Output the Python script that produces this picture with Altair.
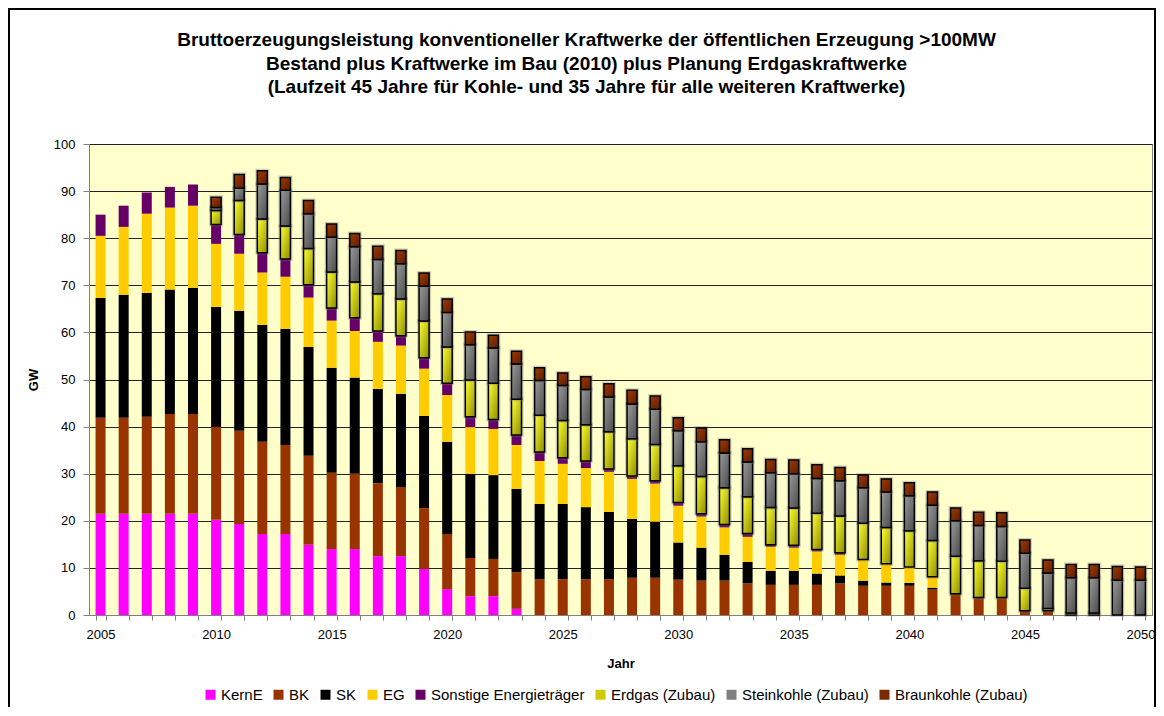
import altair as alt
import pandas as pd

years = list(range(2005, 2051))

series_names = ["KernE", "BK", "SK", "EG", "Sonstige Energieträger",
                "Erdgas (Zubau)", "Steinkohle (Zubau)", "Braunkohle (Zubau)"]

kerne = [21.5, 21.5, 21.5, 21.5, 21.5, 20.2, 19.3, 17.2, 17.2, 14.9,
         14.0, 14.0, 12.5, 12.5, 9.8, 5.5, 4.0, 4.0, 1.3, 0,
         0, 0, 0, 0, 0, 0, 0, 0, 0, 0,
         0, 0, 0, 0, 0, 0, 0, 0, 0, 0,
         0, 0, 0, 0, 0, 0]
bk = [20.4, 20.4, 20.6, 21.2, 21.2, 19.7, 19.8, 19.6, 18.9, 18.9,
      16.2, 16.0, 15.5, 14.7, 12.9, 11.7, 8.1, 7.9, 7.8, 7.6,
      7.6, 7.6, 7.6, 7.9, 7.9, 7.5, 7.3, 7.3, 6.7, 6.4,
      6.4, 6.4, 6.7, 6.2, 6.2, 6.2, 5.4, 4.5, 3.7, 3.7,
      0.9, 0.9, 0, 0, 0, 0]
sk = [25.4, 26.1, 26.3, 26.4, 26.8, 25.5, 25.5, 24.8, 24.7, 23.1,
      22.3, 20.4, 20.0, 19.8, 19.6, 19.6, 17.9, 17.8, 17.7, 16.0,
      16.0, 15.3, 14.3, 12.5, 11.9, 7.9, 7.0, 5.5, 4.6, 3.0,
      3.0, 2.4, 1.7, 1.1, 0.7, 0.6, 0.4, 0, 0, 0,
      0, 0, 0, 0, 0, 0]
eg = [13.2, 14.4, 16.8, 17.4, 17.4, 13.4, 12.1, 11.1, 11.0, 10.5,
      10.0, 9.9, 10.0, 10.2, 10.0, 9.9, 9.9, 9.8, 9.3, 9.1,
      8.5, 8.3, 8.5, 8.5, 8.1, 7.8, 6.6, 5.8, 5.3, 5.1,
      4.9, 4.7, 4.4, 4.5, 4.0, 3.4, 2.3, 0, 0, 0,
      0, 0, 0, 0, 0, 0]
sonstige = [4.5, 4.5, 4.5, 4.4, 4.5, 4.1, 4.1, 4.2, 3.8, 2.7,
            2.7, 2.8, 2.3, 2.1, 2.3, 2.5, 2.2, 2.0, 2.1, 1.9,
            1.3, 1.5, 0.6, 0.6, 0.6, 0.7, 0.6, 0.6, 0.7, 0.4,
            0.5, 0.4, 0.4, 0, 0, 0, 0, 0, 0, 0,
            0, 0, 0, 0, 0, 0]
erdgas_zubau = [0, 0, 0, 0, 0, 3.0, 7.2, 7.2, 7.0, 7.7,
                7.6, 7.6, 7.9, 7.8, 7.8, 7.7, 7.8, 7.7, 7.6, 7.8,
                7.9, 7.7, 7.9, 7.9, 7.7, 7.8, 7.9, 7.8, 7.8, 7.9,
                7.9, 7.7, 7.8, 7.7, 7.7, 7.7, 7.7, 8.0, 7.8, 7.7,
                4.8, 0.5, 0.4, 0.4, 0, 0]
steinkohle_zubau = [0, 0, 0, 0, 0, 0.6, 2.6, 7.4, 7.6, 7.4,
                    7.4, 7.5, 7.3, 7.5, 7.4, 7.3, 7.5, 7.5, 7.5, 7.4,
                    7.4, 7.5, 7.4, 7.4, 7.5, 7.4, 7.4, 7.4, 7.4, 7.4,
                    7.3, 7.4, 7.5, 7.5, 7.5, 7.4, 7.5, 7.5, 7.5, 7.4,
                    7.4, 7.5, 7.5, 7.5, 7.4, 7.4]
braunkohle_zubau = [0, 0, 0, 0, 0, 2.2, 2.9, 2.8, 2.7, 2.8,
                    2.8, 2.8, 2.8, 2.8, 2.8, 2.9, 2.7, 2.7, 2.7, 2.7,
                    2.7, 2.7, 2.8, 2.9, 2.8, 2.8, 2.9, 2.8, 2.8, 2.8,
                    2.9, 2.9, 2.8, 2.7, 2.8, 2.8, 2.8, 2.7, 2.8, 2.9,
                    2.8, 2.8, 2.8, 2.8, 2.9, 2.8]

colors = ["#FF00FF", "#993300", "#000000", "#FFCC00", "#660066",
          "#CCCC00", "#808080", "#7A2A00"]

all_series = [kerne, bk, sk, eg, sonstige, erdgas_zubau, steinkohle_zubau, braunkohle_zubau]

rows = []
for idx, (name, vals) in enumerate(zip(series_names, all_series)):
    for y, v in zip(years, vals):
        rows.append({"year": y, "series": name, "idx": idx, "value": v})
df = pd.DataFrame(rows)

FONT = "Liberation Sans"
W, H = 1063, 471

xscale = alt.Scale(paddingInner=0.567, paddingOuter=0.2835)
yscale = alt.Scale(domain=[0, 100])

base = alt.Chart(df).transform_stack(
    stack="value", groupby=["year"], as_=["y0", "y1"],
    sort=[alt.SortField("idx", order="ascending")]
)

xenc = alt.X("year:O", scale=xscale, title="Jahr",
             axis=alt.Axis(labelExpr="datum.value % 5 == 0 ? datum.label : ''",
                           labelAngle=0, tickBand="extent", tickSize=5,
                           labelPadding=8, labelFontSize=13, labelColor="black",
                           titleFontSize=13, titleFontWeight="bold",
                           titleY=48, titleBaseline="middle",
                           domainColor="#808080", tickColor="#808080",
                           labelFont=FONT, titleFont=FONT))
yenc = alt.Y("y0:Q", scale=yscale, title="GW",
             axis=alt.Axis(values=list(range(0, 101, 10)), tickSize=6,
                           labelPadding=8, labelFontSize=13, labelColor="black",
                           titleFontSize=13, titleFontWeight="bold",
                           titleX=-56, titleY=H / 2, titleBaseline="middle",
                           domainColor="#808080", tickColor="#808080",
                           gridColor="#222222", gridWidth=1,
                           labelFont=FONT, titleFont=FONT))

bars = base.mark_bar().encode(
    x=xenc,
    y=yenc,
    y2="y1:Q",
    color=alt.Color("series:N",
                    scale=alt.Scale(domain=series_names, range=colors),
                    legend=alt.Legend(title=None, orient="none", direction="horizontal",
                                      legendX=114, legendY=543, columns=8,
                                      symbolType="square", symbolSize=100,
                                      symbolStrokeWidth=0,
                                      labelFontSize=15, labelFont=FONT,
                                      labelColor="black", labelOffset=3,
                                      columnPadding=8)),
    order=alt.Order("idx:Q", sort="ascending"),
)


def grad(c1, c2):
    return {"gradient": "linear", "x1": 0, "y1": 0, "x2": 1, "y2": 1,
            "stops": [{"offset": 0, "color": c1}, {"offset": 1, "color": c2}]}


zubau_styles = {
    "Erdgas (Zubau)": grad("#FFFF33", "#8C8C00"),
    "Steinkohle (Zubau)": grad("#9A9A9A", "#4A4A4A"),
    "Braunkohle (Zubau)": grad("#A03A05", "#5A1E00"),
}

overlays = []
for name, g in zubau_styles.items():
    filt = base.transform_filter(
        (alt.datum.series == name) & (alt.datum.value > 0)
    )
    halo = filt.mark_bar(fill="transparent", stroke="#777777", strokeWidth=4,
                         strokeOpacity=0.35).encode(
        x=alt.X("year:O", scale=xscale), y=alt.Y("y0:Q", scale=yscale), y2="y1:Q")
    box = filt.mark_bar(fill=g, stroke="black", strokeWidth=1.5).encode(
        x=alt.X("year:O", scale=xscale), y=alt.Y("y0:Q", scale=yscale), y2="y1:Q")
    overlays += [halo, box]

frame = alt.Chart(pd.DataFrame({"a": [0]})).mark_rect(
    fill="transparent", stroke="black", strokeWidth=2
).encode(x=alt.value(-80), x2=alt.value(1066), y=alt.value(-135), y2=alt.value(720))

chart = alt.layer(bars, *overlays, frame).properties(
    width=W, height=H,
    padding={"left": 81, "top": 136, "right": 4, "bottom": 92},
    autosize=alt.AutoSizeParams(type="none"),
    title=alt.TitleParams(
        text=["Bruttoerzeugungsleistung konventioneller Kraftwerke der öffentlichen Erzeugung >100MW",
              "Bestand plus Kraftwerke im Bau (2010) plus Planung Erdgaskraftwerke",
              "(Laufzeit 45 Jahre für Kohle- und 35 Jahre für alle weiteren Kraftwerke)"],
        fontSize=19, fontWeight="bold", font=FONT, color="black",
        anchor="middle", frame="group", offset=0, dy=89, dx=-34, lineHeight=23.5),
).configure(background="white").configure_view(
    fill="#FFFFCC", stroke="#808080", strokeWidth=1
)

chart.save("out.html", embed_options={"renderer": "svg", "actions": False})
